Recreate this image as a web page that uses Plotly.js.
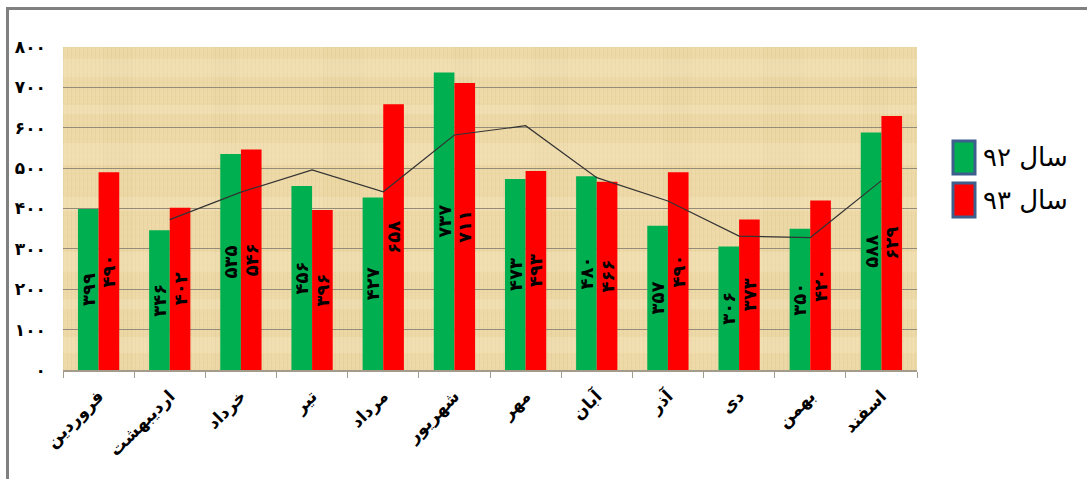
<!DOCTYPE html>
<html>
<head>
<meta charset="utf-8">
<script src="https://cdn.plot.ly/plotly-3.0.1.min.js"></script>
<style>
  html, body { margin: 0; padding: 0; background: #fff; }
  #chart { width: 1087px; height: 479px; }
  #frame {
    position: absolute; left: 6px; top: 7px; width: 1200px; height: 600px;
    border-top: 3px solid #808080; border-left: 3px solid #808080;
    pointer-events: none;
  }
</style>
</head>
<body>
<div id="chart"></div>
<div id="frame"></div>
<script>
// Months of the Persian calendar
const months = ['فروردین', 'اردیبهشت', 'خرداد', 'تیر', 'مرداد', 'شهریور',
                'مهر', 'آبان', 'آذر', 'دی', 'بهمن', 'اسفند'];

// Monthly values for the two years
const year92 = [399, 346, 535, 456, 427, 737, 473, 480, 357, 306, 350, 588];
const year93 = [490, 402, 546, 396, 658, 711, 493, 466, 490, 373, 420, 629];

const seriesNames = ['سال ۹۲', 'سال ۹۳'];
const seriesColors = ['#00b050', '#ff0000'];

// Y axis ticks
const yTicks = [0, 100, 200, 300, 400, 500, 600, 700, 800];

// Western digits -> Persian digits
function toFa(n) {
  return String(n).replace(/[0-9]/g, d => '۰۱۲۳۴۵۶۷۸۹'[+d]);
}

// Two-period moving-average trend of سال ۹۲ (starts at the 2nd month)
const trendX = months.slice(1);
const trendY = year92.slice(1).map((v, i) => (v + year92[i]) / 2);

// Papyrus-like texture for the plotting area
function papyrus(w, h) {
  let bands = '';
  const hBands = [[12, 18], [58, 9], [96, 22], [150, 14], [205, 20], [252, 10], [290, 16]];
  hBands.forEach(b => {
    bands += `<rect x='0' y='${b[0]}' width='${w}' height='${b[1]}' fill='#fff8e2' opacity='0.18'/>`;
  });
  const vBands = [[40, 30], [150, 25], [260, 40], [390, 20], [470, 35], [600, 28], [700, 40], [800, 25]];
  vBands.forEach(b => {
    bands += `<rect x='${b[0]}' y='0' width='${b[1]}' height='${h}' fill='#c9a865' opacity='0.04'/>`;
  });
  const svg = `<svg xmlns='http://www.w3.org/2000/svg' width='${w}' height='${h}'>
    <defs>
      <pattern id='weave' width='4' height='7' patternUnits='userSpaceOnUse'>
        <rect width='4' height='7' fill='#eedaa8'/>
        <path d='M0.5 0V7' stroke='#d8c08a' stroke-width='1' opacity='0.25'/>
        <path d='M0 0.5H4' stroke='#dcc590' stroke-width='1' opacity='0.15'/>
      </pattern>
    </defs>
    <rect width='${w}' height='${h}' fill='url(#weave)'/>
    ${bands}
  </svg>`;
  return 'data:image/svg+xml;charset=utf-8,' + encodeURIComponent(svg);
}

const barText = {
  textposition: 'inside',
  insidetextanchor: 'middle',
  textangle: -90,
  constraintext: 'none',
  textfont: { family: 'DejaVu Sans', size: 18, color: '#000', weight: 'bold' },
  hoverinfo: 'x+y'
};

const traces = [
  Object.assign({
    type: 'bar', name: seriesNames[0], x: months, y: year92,
    text: year92.map(toFa), marker: { color: seriesColors[0] }
  }, barText),
  Object.assign({
    type: 'bar', name: seriesNames[1], x: months, y: year93,
    text: year93.map(toFa), marker: { color: seriesColors[1] }
  }, barText),
  {
    type: 'scatter', mode: 'lines', x: trendX, y: trendY,
    line: { color: '#333333', width: 1.2 }, showlegend: false, hoverinfo: 'skip'
  }
];

// Legend drawn as swatches + labels at the right of the plot
const M = { l: 63, r: 170, t: 47, b: 109 };
const plotW = 1087 - M.l - M.r, plotH = 479 - M.t - M.b;
const px = x => (x - M.l) / plotW;
const py = y => (479 - M.b - y) / plotH;
const legendRows = [[141, 174, 157], [183, 217, 200]];

const shapes = [], annotations = [];
seriesNames.forEach((name, i) => {
  const r = legendRows[i];
  shapes.push({
    type: 'rect', xref: 'paper', yref: 'paper',
    x0: px(953), x1: px(975), y0: py(r[1]), y1: py(r[0]),
    fillcolor: seriesColors[i], line: { color: '#3e5f8e', width: 3 }
  });
  annotations.push({
    xref: 'paper', yref: 'paper', x: px(981), y: py(r[2]),
    xanchor: 'left', yanchor: 'middle', showarrow: false, text: name,
    font: { family: 'DejaVu Sans', size: 26, color: '#000' }
  });
});

const layout = {
  width: 1087, height: 479,
  margin: M,
  paper_bgcolor: '#ffffff',
  plot_bgcolor: 'rgba(0,0,0,0)',
  showlegend: false,
  barmode: 'group',
  bargap: 0.42,
  bargroupgap: 0,
  xaxis: {
    type: 'category',
    tickson: 'boundaries',
    ticks: 'outside', ticklen: 6, tickcolor: '#a39c8c', tickwidth: 1,
    showline: true, linecolor: '#a39c8c', linewidth: 1.5,
    showgrid: false,
    tickangle: -45,
    ticklabelstandoff: 8,
    tickfont: { family: 'DejaVu Sans', size: 17, color: '#000', weight: 'bold' }
  },
  yaxis: {
    range: [0, 800],
    tickvals: yTicks,
    ticktext: yTicks.map(toFa),
    showgrid: true, gridcolor: '#948c78', gridwidth: 1,
    zeroline: false, showline: false,
    ticks: '', ticklabelstandoff: 16,
    tickfont: { family: 'DejaVu Sans', size: 17, color: '#000', weight: 'bold' }
  },
  images: [{
    source: papyrus(plotW, plotH),
    xref: 'paper', yref: 'paper', x: 0, y: 1, sizex: 1, sizey: 1,
    xanchor: 'left', yanchor: 'top', sizing: 'stretch', layer: 'below'
  }],
  shapes: shapes,
  annotations: annotations
};

Plotly.newPlot('chart', traces, layout, { displayModeBar: false, staticPlot: true });
</script>
</body>
</html>
